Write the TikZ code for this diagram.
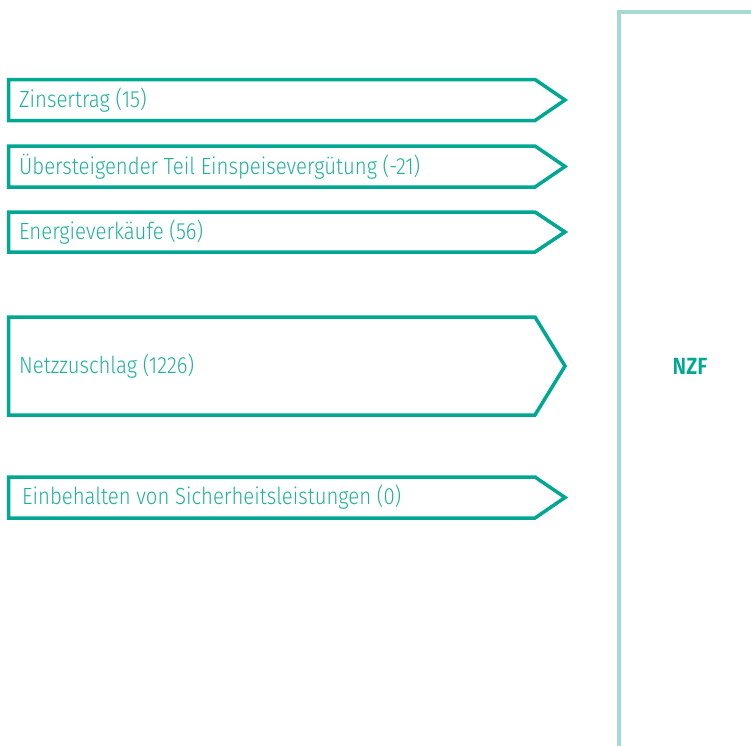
\documentclass[tikz,border=0pt]{standalone}
\usepackage{fontspec}
\setmainfont{Fira Sans}[UprightFont={* Light},BoldFont={* SemiBold},FakeStretch=0.87]
\usepackage{tikz}
\usetikzlibrary{positioning}
\definecolor{nzgreen}{HTML}{00A893}
\definecolor{nztext}{HTML}{1FB09C}
\definecolor{nzpale}{HTML}{A6D9D2}
\tikzset{font=\fontsize{23.5}{27}\selectfont}
\tikzset{flow/.style={draw=nzgreen,line width=3.5bp,line join=miter}}
\tikzset{flowlabel/.style={anchor=west,text=nztext,inner sep=0pt}}

\begin{document}
\begin{tikzpicture}[x=1bp,y=-1bp]
\useasboundingbox (0,0) rectangle (751,746);
\pgfmathsetmacro{\LX}{8.5}
\pgfmathsetmacro{\NX}{535}
\pgfmathsetmacro{\TX}{565}
\draw[flow] (\LX,79.5) -- (\NX,79.5) -- (\TX,100) -- (\NX,120.5) -- (\LX,120.5) -- cycle;
\node[flowlabel] (zins) at (19,100) {Zinsertrag (15)};
\draw[flow] (\LX,146) -- (\NX,146) -- (\TX,166.5) -- (\NX,187) -- (\LX,187) -- cycle;
\node[flowlabel] (einsp) at (19,166.5) {Übersteigender Teil Einspeisevergütung (-21)};
\draw[flow] (\LX,212) -- (\NX,212) -- (\TX,232) -- (\NX,252) -- (\LX,252) -- cycle;
\node[flowlabel] (energie) at (19,232) {Energieverkäufe (56)};
\draw[flow] (\LX,317) -- (\NX,317) -- (\TX,366) -- (\NX,415) -- (\LX,415) -- cycle;
\node[flowlabel] (netz) at (19,366) {Netzzuschlag (1226)};
\draw[flow] (\LX,477) -- (\NX,477) -- (\TX,497.5) -- (\NX,518) -- (\LX,518) -- cycle;
\node[flowlabel] (sicher) at (22,497.5) {Einbehalten von Sicherheitsleistungen (0)};
\draw[draw=nzpale,line width=4bp] (618.5,746) -- (618.5,12.5) -- (751,12.5);
\node[text=nzgreen,font=\fontsize{23.5}{27}\selectfont\bfseries] (nzf) at (690,366) {NZF};
\end{tikzpicture}
\end{document}
